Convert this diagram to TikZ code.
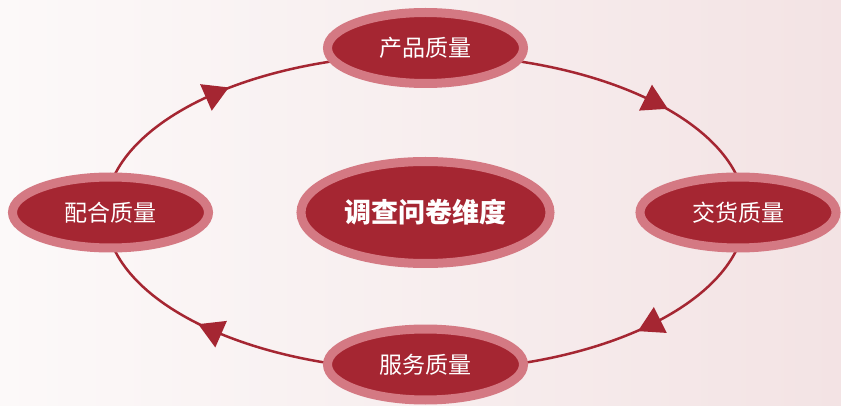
\documentclass[tikz,border=0pt]{standalone}
\usepackage{fontspec}
\newfontfamily\cjk{Noto Sans CJK SC}
\usetikzlibrary{shapes.geometric,decorations.markings,backgrounds}
\definecolor{deepred}{RGB}{165,38,50}
\definecolor{rimpink}{RGB}{212,121,131}
\definecolor{bgleft}{RGB}{252,249,249}
\definecolor{bgright}{RGB}{243,227,228}
\newcommand{\flowtriangle}{\fill[flowtip] (16.7,0) -- (-8.3,14.5) -- (-8.3,-14.5) -- cycle;}
\begin{document}
\begin{tikzpicture}[x=1pt,y=-1pt,
  quality/.style={ellipse, draw=rimpink, fill=deepred, line width=9pt,
    minimum width=196pt, minimum height=71pt, inner sep=0pt, text=white,
    font=\cjk\fontsize{23}{23}\selectfont},
  core/.style={quality, minimum width=249pt, minimum height=102pt,
    font=\cjk\bfseries\fontsize{27}{27}\selectfont},
  cycleline/.style={draw=deepred, line width=2.5pt},
  flowtip/.style={fill=deepred}]
\useasboundingbox (0,0) rectangle (841,406);
\node[core] (C) at (425.5,212.5) {调查问卷维度};
\node[quality] (T) at (425.5,48) {产品质量};
\node[quality] (R) at (738,212.5) {交货质量};
\node[quality] (B) at (425.5,364.5) {服务质量};
\node[quality] (L) at (110.5,212.5) {配合质量};
\begin{pgfonlayer}{background}
\shade[left color=bgleft, right color=bgright] (0,0) rectangle (841,406);
\draw[cycleline, postaction={decorate},
  decoration={markings,
    mark=at position 0.0985 with {\flowtriangle},
    mark=at position 0.3905 with {\flowtriangle},
    mark=at position 0.6095 with {\flowtriangle},
    mark=at position 0.9015 with {\flowtriangle}}]
  (C.center) ellipse [x radius=320, y radius=158];
\end{pgfonlayer}
\end{tikzpicture}
\end{document}
